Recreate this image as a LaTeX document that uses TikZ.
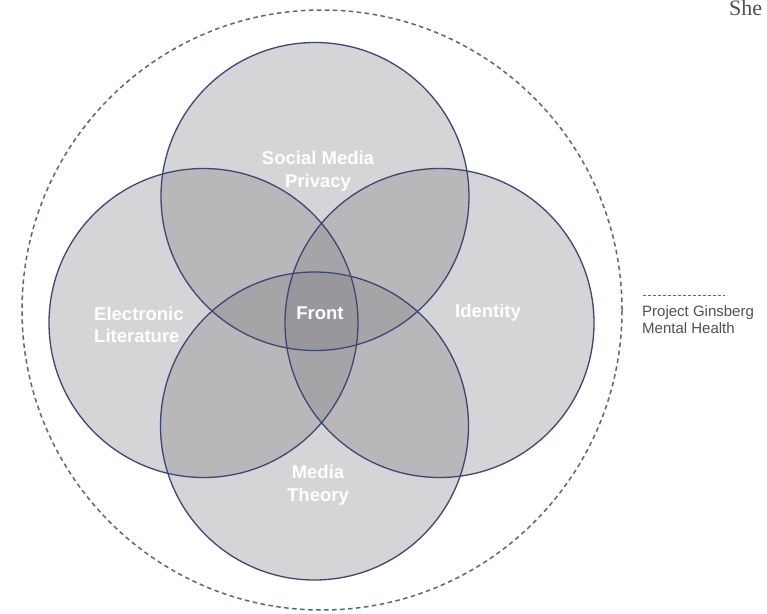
\documentclass[tikz,border=0pt]{standalone}
\usepackage{fontspec}
\setmainfont{Liberation Sans}
\newfontfamily\serifface{Liberation Serif}
\begin{document}
\begin{tikzpicture}[x=1pt,y=-1pt,
  vennfill/.style={circle, inner sep=0pt, minimum size=#1, fill=vennGray, fill opacity=0.33},
  vennedge/.style={draw=vennBlue, line width=1.3pt},
  outerring/.style={draw=ringBlue, line width=1.5pt, dash pattern=on 4.5pt off 3.5pt},
  setlabel/.style={text=white, font=\bfseries\fontsize{18.5}{22.5}\selectfont, align=center, inner sep=0pt},
  legendtext/.style={text=legendGray, font=\fontsize{15}{17}\selectfont, align=left, inner sep=0pt}]
\definecolor{vennGray}{RGB}{128,126,131}
\definecolor{vennBlue}{RGB}{58,72,118}
\definecolor{ringBlue}{RGB}{88,100,138}
\definecolor{legendGray}{RGB}{80,80,82}

\fill[white] (0,0) rectangle (767,613);
\useasboundingbox (0,0) rectangle (767,613);

% dashed enclosing ring
\node[circle, inner sep=0pt, minimum size=600pt, outerring] (ring) at (322,310) {};

% the four overlapping sets: fills first, outlines on top
\node[vennfill=308pt] (smp)  at (315,196.5) {};
\node[vennfill=309pt] (elit) at (203.5,323) {};
\node[vennfill=309pt] (iden) at (439.5,323) {};
\node[vennfill=308pt] (mth)  at (314.5,426) {};
\draw[vennedge] (smp.center)  circle[radius=154];
\draw[vennedge] (elit.center) circle[radius=154.5];
\draw[vennedge] (iden.center) circle[radius=154.5];
\draw[vennedge] (mth.center)  circle[radius=154];

% set labels
\node[setlabel] (lsmp)  at (318,171) {Social Media\\Privacy};
\node[setlabel] (lfront) at (320,313) {Front};
\node[setlabel] (liden) at (488,313) {Identity};
\node[setlabel, align=left, anchor=west] (lelit) at (94,325) {Electronic\\Literature};
\node[setlabel] (lmth)  at (318,485) {Media\\Theory};

% legend
\coordinate (lega) at (643,295);
\coordinate (legb) at (725,295);
\draw[draw=ringBlue, line width=1pt, dash pattern=on 3pt off 2pt] (lega) -- (legb);
\node[legendtext, anchor=north west] (legtxt) at (642,305) {Project Ginsberg\\Mental Health};

% running header text
\node[text=legendGray, font=\serifface\fontsize{22}{24}\selectfont, anchor=base west, inner sep=0pt] (hdr) at (729,16) {She};
\end{tikzpicture}
\end{document}
